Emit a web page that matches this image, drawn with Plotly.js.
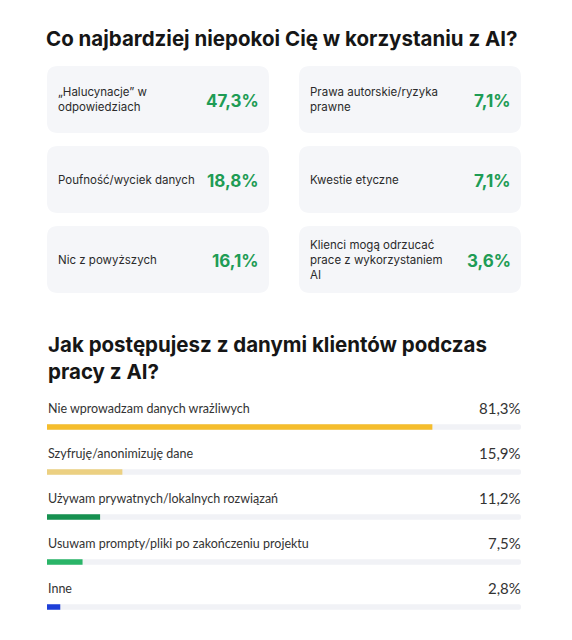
<!DOCTYPE html>
<html>
<head>
<meta charset="utf-8">
<script src="https://cdn.plot.ly/plotly-3.0.1.min.js"></script>
<style>
html,body{margin:0;padding:0;background:#fff;}
#chart{width:572px;height:640px;}
</style>
</head>
<body>
<div id="chart"></div>
<script>
// ---- Data ----
var title1 = "Co najbardziej niepokoi Cię w korzystaniu z AI?";
var concernLabels = [
  "„Halucynacje” w<br>odpowiedziach",
  "Poufność/wyciek danych",
  "Nic z powyższych",
  "Prawa autorskie/ryzyka<br>prawne",
  "Kwestie etyczne",
  "Klienci mogą odrzucać<br>prace z wykorzystaniem<br>AI"
];
var concernValues = [47.3, 18.8, 16.1, 7.1, 7.1, 3.6];

var title2 = "Jak postępujesz z danymi klientów podczas<br>pracy z AI?";
var dataCategories = [
  "Nie wprowadzam danych wrażliwych",
  "Szyfruję/anonimizuję dane",
  "Używam prywatnych/lokalnych rozwiązań",
  "Usuwam prompty/pliki po zakończeniu projektu",
  "Inne"
];
var dataValues = [81.3, 15.9, 11.2, 7.5, 2.8];
var barColors = ["#f5bd2c", "#ecd081", "#169150", "#2ab568", "#1e3fd8"];

// ---- Helpers ----
function fmt(v){ return v.toFixed(1).replace('.', ',') + '%'; }
function roundRect(x0, y0, x1, y1, r){
  return 'M' + (x0+r) + ',' + y0 +
    ' L' + (x1-r) + ',' + y0 + ' Q' + x1 + ',' + y0 + ' ' + x1 + ',' + (y0+r) +
    ' L' + x1 + ',' + (y1-r) + ' Q' + x1 + ',' + y1 + ' ' + (x1-r) + ',' + y1 +
    ' L' + (x0+r) + ',' + y1 + ' Q' + x0 + ',' + y1 + ' ' + x0 + ',' + (y1-r) +
    ' L' + x0 + ',' + (y0+r) + ' Q' + x0 + ',' + y0 + ' ' + (x0+r) + ',' + y0 + ' Z';
}

var W = 572, H = 640;
var FONT = "Inter, 'Noto Sans', sans-serif";
var FONT2 = "Lato, 'Open Sans', sans-serif";

// card grid layout
var colX = [47, 299], cardW = 222, rowY = [66, 146, 226], cardH = 67;

var shapes = [], annotations = [];
concernLabels.forEach(function(lbl, i){
  var col = Math.floor(i / 3), row = i % 3;
  var x0 = colX[col], y0 = rowY[row], x1 = x0 + cardW, y1 = y0 + cardH;
  shapes.push({type:'path', xref:'x2', yref:'y2', path: roundRect(x0, y0, x1, y1, 11),
    fillcolor:'#f5f6f9', line:{width:0}, layer:'below'});
  annotations.push({xref:'x2', yref:'y2', x: x0 + 9, y: (y0+y1)/2, xanchor:'left', yanchor:'middle',
    align:'left', showarrow:false, text: lbl, font:{family:FONT, size:11.5, color:'#2b2b2b'}});
  annotations.push({xref:'x2', yref:'y2', x: x1 - 8, y: (y0+y1)/2 + 1, xanchor:'right', yanchor:'middle',
    showarrow:false, text: '<b>' + fmt(concernValues[i]) + '</b>', font:{family:FONT, size:17, color:'#1e9c55'}});
});

// second title
annotations.push({xref:'x2', yref:'y2', x: 46, y: 358, xanchor:'left', yanchor:'middle', align:'left',
  showarrow:false, text:'<b>' + title2 + '</b>', font:{family:FONT, size:20.5, color:'#161616'}});

// bar labels and values
dataCategories.forEach(function(c, i){
  annotations.push({xref:'x', yref:'y', x:0, y:c, yshift:19, xshift:-1, xanchor:'left', yanchor:'middle',
    showarrow:false, text:c, font:{family:FONT2, size:12.5, color:'#333333'}});
  annotations.push({xref:'x', yref:'y', x:100, y:c, yshift:19, xshift:2, xanchor:'right', yanchor:'middle',
    showarrow:false, text:fmt(dataValues[i]), font:{family:FONT2, size:15, color:'#333333'}});
});

var track = {
  type:'bar', orientation:'h', y: dataCategories, x: dataCategories.map(function(){return 100;}),
  marker:{color:'#f1f2f6', cornerradius:'50%'}, width:0.12, hoverinfo:'skip', showlegend:false
};
var bars = {
  type:'bar', orientation:'h', y: dataCategories, x: dataValues,
  marker:{color: barColors, cornerradius:'50%'}, width:0.12, hoverinfo:'skip', showlegend:false
};

var yTop = 404.5, yBot = 629.5;
var layout = {
  width: W, height: H,
  margin:{l:0, r:0, t:0, b:0},
  paper_bgcolor:'#ffffff', plot_bgcolor:'rgba(0,0,0,0)',
  barmode:'overlay',
  title:{text:'<b>' + title1 + '</b>', x: 46/W, xanchor:'left', xref:'paper',
    y: 1 - 39/H, yanchor:'middle', yref:'paper', font:{family:FONT, size:20.5, color:'#161616'}},
  xaxis:{domain:[47/W, 521/W], range:[0,100], visible:false, fixedrange:true},
  yaxis:{domain:[1 - yBot/H, 1 - yTop/H], type:'category', range:[4.5,-0.5], visible:false, fixedrange:true},
  xaxis2:{domain:[0,1], range:[0,W], visible:false, anchor:'y2'},
  yaxis2:{domain:[0,1], range:[H,0], visible:false, anchor:'x2'},
  shapes: shapes,
  annotations: annotations,
  showlegend:false
};

Plotly.newPlot('chart', [track, bars], layout, {displayModeBar:false, staticPlot:true});
</script>
</body>
</html>
